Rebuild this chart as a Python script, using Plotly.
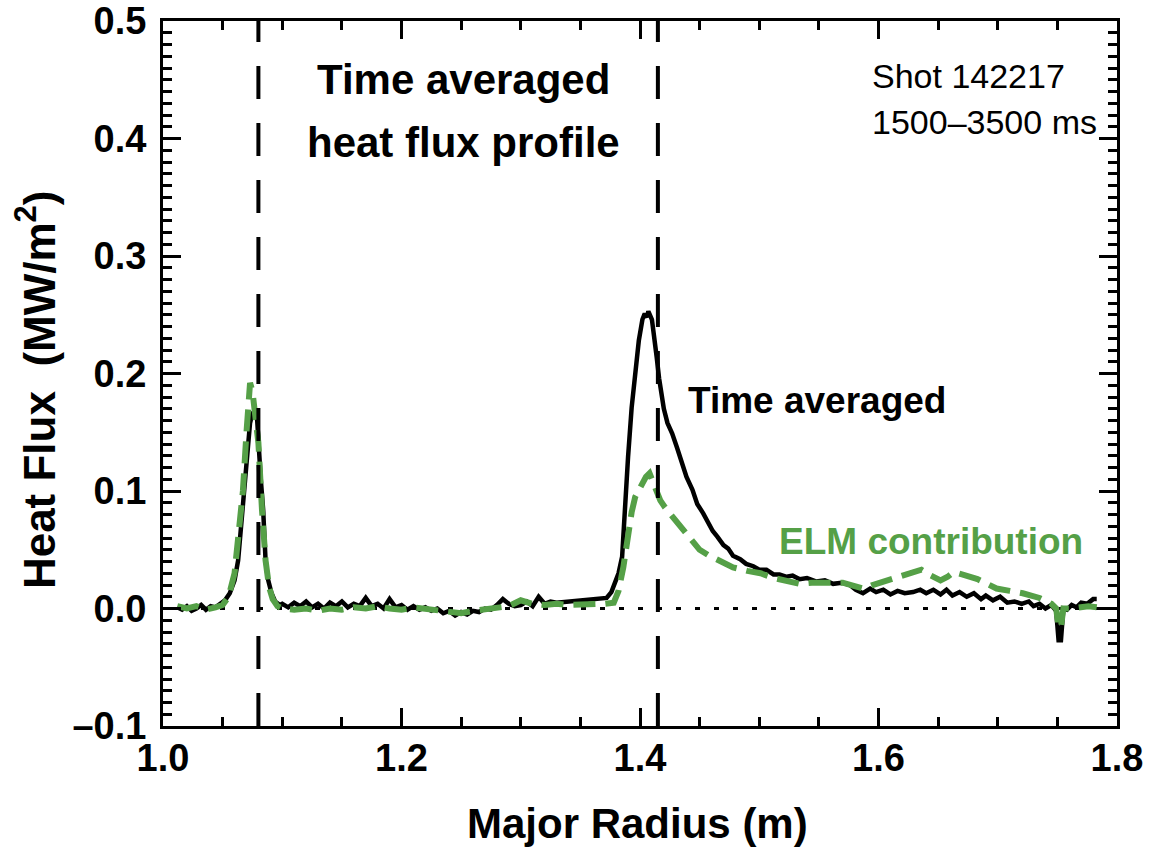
import plotly.graph_objects as go

# ---------------- data ----------------
time_avg_x = [1.012, 1.016, 1.020, 1.024, 1.028, 1.032, 1.036, 1.040, 1.044, 1.048,
              1.052, 1.056, 1.060, 1.063, 1.067, 1.070, 1.073, 1.075, 1.077, 1.079,
              1.080, 1.082, 1.084, 1.086, 1.088, 1.091, 1.094, 1.098,
              1.100, 1.105, 1.110, 1.115, 1.120, 1.125, 1.130, 1.135, 1.140, 1.145,
              1.150, 1.155, 1.160, 1.165, 1.170, 1.175, 1.180, 1.185, 1.190, 1.195,
              1.200, 1.205, 1.210, 1.215, 1.220, 1.225, 1.230, 1.235, 1.240, 1.245,
              1.250, 1.255, 1.260, 1.265, 1.270, 1.275, 1.280, 1.285, 1.290, 1.295,
              1.300, 1.305, 1.310, 1.315, 1.320, 1.325, 1.330,
              1.372, 1.376, 1.379, 1.382, 1.385, 1.387, 1.390, 1.393, 1.396, 1.399,
              1.402, 1.404, 1.406, 1.407, 1.410, 1.412, 1.414, 1.416, 1.418, 1.420,
              1.423, 1.427, 1.431, 1.435, 1.439, 1.444, 1.448, 1.453, 1.457, 1.461,
              1.465, 1.470, 1.474, 1.478, 1.484, 1.489, 1.495, 1.500, 1.506, 1.512,
              1.517, 1.523, 1.528, 1.534, 1.540, 1.548, 1.555, 1.562, 1.569, 1.576,
              1.581, 1.587, 1.593, 1.598, 1.604, 1.610, 1.616, 1.622, 1.629, 1.635,
              1.640, 1.646, 1.652, 1.657, 1.662, 1.668, 1.674, 1.680, 1.686, 1.690,
              1.696, 1.702, 1.708, 1.714, 1.720, 1.726, 1.730, 1.735, 1.740, 1.745,
              1.749, 1.751, 1.753, 1.755, 1.758, 1.762, 1.766, 1.770, 1.775, 1.780, 1.783]
time_avg_y = [0.001, -0.001, 0.002, -0.002, 0.000, 0.003, -0.001, 0.002, 0.001, 0.004,
              0.007, 0.013, 0.024, 0.041, 0.084, 0.126, 0.158, 0.166, 0.168, 0.160,
              0.141, 0.110, 0.084, 0.041, 0.025, 0.013, 0.006, 0.003,
              0.004, 0.001, 0.005, 0.002, 0.006, 0.001, 0.004, 0.000, 0.005, 0.002,
              0.006, 0.001, 0.004, 0.002, 0.009, 0.002, 0.004, 0.000, 0.008, 0.001,
              0.003, -0.001, 0.002, -0.001, 0.001, -0.002, 0.000, -0.004, -0.002, -0.006,
              -0.003, -0.005, -0.002, -0.003, 0.000, -0.001, 0.003, 0.008, 0.004, 0.002,
              0.003, 0.006, 0.002, 0.010, 0.004, 0.006, 0.005,
              0.009, 0.014, 0.021, 0.030, 0.044, 0.086, 0.129, 0.171, 0.200, 0.228,
              0.246, 0.251, 0.248, 0.253, 0.246, 0.232, 0.214, 0.196, 0.180, 0.170,
              0.158, 0.149, 0.137, 0.125, 0.112, 0.101, 0.089, 0.081, 0.073, 0.066,
              0.061, 0.054, 0.051, 0.045, 0.042, 0.038, 0.036, 0.033, 0.033, 0.029,
              0.029, 0.027, 0.028, 0.025, 0.026, 0.023, 0.024, 0.021, 0.022, 0.020,
              0.016, 0.013, 0.017, 0.014, 0.016, 0.012, 0.015, 0.013, 0.014, 0.016,
              0.013, 0.016, 0.012, 0.016, 0.011, 0.014, 0.010, 0.013, 0.008, 0.011,
              0.007, 0.010, 0.005, 0.006, 0.004, 0.006, 0.002, 0.004, 0.000, 0.003,
              -0.002, -0.027, -0.027, 0.000, -0.001, 0.003, 0.001, 0.005, 0.004, 0.008, 0.008]

elm_x = [1.012, 1.020, 1.028, 1.036, 1.044, 1.050, 1.055, 1.060, 1.064, 1.067,
         1.070, 1.072, 1.073, 1.075, 1.077, 1.080, 1.083, 1.086, 1.089, 1.092,
         1.096, 1.100, 1.110, 1.120, 1.130, 1.140, 1.150, 1.160, 1.170, 1.180,
         1.190, 1.200, 1.210, 1.220, 1.230, 1.240, 1.250, 1.260, 1.270, 1.280,
         1.290, 1.300, 1.310, 1.320, 1.330, 1.340, 1.350, 1.360, 1.370, 1.378,
         1.382, 1.386, 1.390, 1.393, 1.396, 1.402, 1.405, 1.408, 1.412, 1.417,
         1.421, 1.425, 1.432, 1.442, 1.450, 1.458, 1.467, 1.478, 1.490, 1.501,
         1.512, 1.523, 1.534, 1.544, 1.553, 1.562, 1.570, 1.580, 1.587, 1.595,
         1.601, 1.610, 1.618, 1.626, 1.636, 1.644, 1.652, 1.658, 1.663, 1.670,
         1.677, 1.683, 1.691, 1.699, 1.710, 1.721, 1.735, 1.745, 1.749, 1.751,
         1.753, 1.755, 1.762, 1.770, 1.776, 1.783]
elm_y = [0.002, 0.000, 0.002, -0.001, 0.001, 0.003, 0.010, 0.030, 0.070, 0.100,
         0.150, 0.185, 0.192, 0.185, 0.168, 0.141, 0.084, 0.041, 0.018, 0.008,
         0.002, 0.000, -0.001, 0.000, -0.002, 0.000, -0.001, 0.001, 0.000, 0.002,
         0.000, -0.001, 0.001, 0.000, -0.002, -0.003, -0.004, -0.002, -0.001, 0.001,
         0.002, 0.007, 0.004, 0.003, 0.004, 0.003, 0.003, 0.004, 0.004, 0.005,
         0.015, 0.035, 0.066, 0.082, 0.095, 0.107, 0.112, 0.115, 0.104, 0.092,
         0.086, 0.081, 0.072, 0.061, 0.050, 0.045, 0.040, 0.035, 0.032, 0.030,
         0.026, 0.023, 0.021, 0.022, 0.022, 0.023, 0.022, 0.019, 0.017, 0.020,
         0.022, 0.025, 0.028, 0.030, 0.033, 0.028, 0.024, 0.027, 0.031, 0.029,
         0.027, 0.025, 0.021, 0.017, 0.015, 0.013, 0.009, 0.004, 0.000, -0.016,
         -0.016, 0.000, 0.000, 0.001, 0.002, 0.001]

separatrix_x = [1.08, 1.415]
zero_line_x = [1.0, 1.8]
zero_line_y = [0.0, 0.0]

x_tick_vals = [1.0, 1.2, 1.4, 1.6, 1.8]
x_tick_text = ["1.0", "1.2", "1.4", "1.6", "1.8"]
y_tick_vals = [-0.1, 0.0, 0.1, 0.2, 0.3, 0.4, 0.5]
y_tick_text = ["\u20130.1", "0.0", "0.1", "0.2", "0.3", "0.4", "0.5"]

# ---------------- style ----------------
GREEN = "#55a047"
FONT = "Liberation Sans, Arial, sans-serif"

fig = go.Figure()

fig.add_trace(go.Scatter(x=zero_line_x, y=zero_line_y, mode="lines",
                         line=dict(color="black", width=3, dash="5px,14px"),
                         hoverinfo="skip", showlegend=False))
fig.add_trace(go.Scatter(x=time_avg_x, y=time_avg_y, mode="lines",
                         line=dict(color="black", width=4.5),
                         showlegend=False))
fig.add_trace(go.Scatter(x=elm_x, y=elm_y, mode="lines",
                         line=dict(color=GREEN, width=6, dash="22px,10px"),
                         showlegend=False))

for sx in separatrix_x:
    fig.add_shape(type="line", xref="x", yref="y", x0=sx, x1=sx, y0=-0.1, y1=0.5,
                  line=dict(color="black", width=4, dash="33px,24px"), layer="above")

axis_common = dict(
    showline=True, linecolor="black", linewidth=3, mirror="allticks",
    ticks="inside", ticklen=18, tickwidth=3, tickcolor="black",
    showgrid=False, zeroline=False, automargin=False,
    tickfont=dict(family=FONT, size=38, color="black", weight="bold"),
)

fig.update_xaxes(range=[1.0, 1.8], tickvals=x_tick_vals, ticktext=x_tick_text,
                 minor=dict(ticks="inside", ticklen=9, tickwidth=3, dtick=0.05,
                            tick0=1.0, tickcolor="black", showgrid=False),
                 ticklabelstandoff=-4, **axis_common)
fig.update_yaxes(range=[-0.1, 0.5001], tickvals=y_tick_vals, ticktext=y_tick_text,
                 minor=dict(ticks="inside", ticklen=9, tickwidth=3, dtick=0.01,
                            tick0=0.0, tickcolor="black", showgrid=False),
                 ticklabelstandoff=6, **axis_common)

def txt(text, x, y, size, color="black", bold=True, xanchor="center", xref="x", yref="y", angle=0):
    fig.add_annotation(text=text, x=x, y=y, xref=xref, yref=yref, showarrow=False,
                       xanchor=xanchor, yanchor="middle", textangle=angle,
                       font=dict(family=FONT, size=size, color=color,
                                 weight="bold" if bold else "normal"))

txt("Time averaged", 1.2516, 0.450, 42)
txt("heat flux profile", 1.2516, 0.397, 42)
txt("Shot 142217", 1.593, 0.453, 34, bold=False, xanchor="left")
txt("1500\u20133500 ms", 1.593, 0.414, 34, bold=False, xanchor="left")
txt("Time averaged", 1.4386, 0.177, 37, xanchor="left")
txt("ELM contribution", 1.515, 0.057, 37, color=GREEN, xanchor="left")
txt("Major Radius (m)", 0.497, -0.1376, 42, xref="paper", yref="paper")
txt("Heat Flux  (MW/m<sup>2</sup>)", -0.133, 0.4766, 44, xref="paper", yref="paper", angle=-90)

fig.update_layout(width=1149, height=851,
                  margin=dict(l=163, r=32, t=21, b=125, autoexpand=False),
                  paper_bgcolor="white", plot_bgcolor="white",
                  showlegend=False)

fig.write_html("out.html")
